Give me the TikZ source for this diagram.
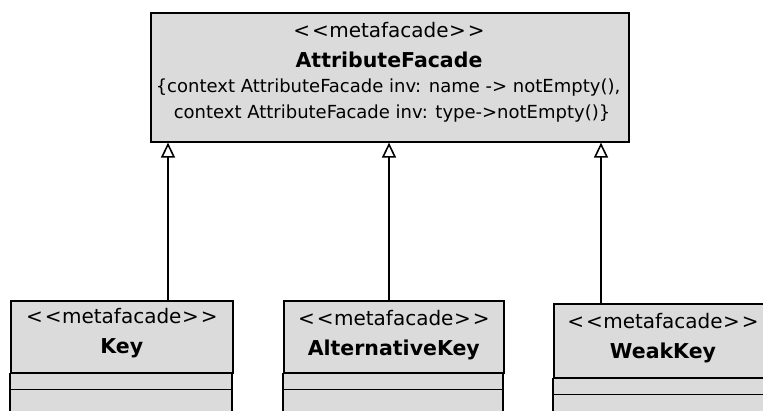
\documentclass[tikz,border=0pt]{standalone}
\usepackage{fontspec}
\setmainfont[Ligatures=NoCommon]{DejaVu Sans}
\usetikzlibrary{arrows.meta}
\newcommand{\mfstereo}{<\kern2pt<\kern0.5pt metafacade\kern0.5pt>\kern2pt>}
\tikzset{
  classbox/.style={draw=black, line width=1.6pt, fill=gray!28, inner sep=0pt, anchor=north west},
  comp/.style={draw=black, line width=1.6pt, fill=gray!28},
  stereo/.style={font=\fontsize{20}{22}\selectfont, inner sep=0pt},
  cname/.style={font=\fontsize{20.5}{22}\selectfont\bfseries, inner sep=0pt},
  ocl/.style={font=\fontsize{18}{20}\selectfont, inner sep=0pt},
  gen/.style={line width=1.6pt, -{Triangle[open, length=15pt, width=14pt, line width=1.6pt]}},
}
\begin{document}
\begin{tikzpicture}[x=1pt, y=-1pt]
\useasboundingbox (0,0) rectangle (763,410);

% superclass
\node[classbox, minimum width=478pt, minimum height=129pt] (af) at (150,12) {};
\node[stereo] (afs) at (389,30) {\mfstereo};
\node[cname] (afn) at (389,60) {AttributeFacade};
\node[ocl] (afc1) at (388,88) {\{context AttributeFacade inv: name -> notEmpty(),};
\node[ocl] (afc2) at (392,114) {context AttributeFacade inv: type->notEmpty()\}};

% subclasses
\node[classbox, minimum width=222pt, minimum height=72pt] (key) at (10,300) {};
\draw[comp] (key.south west) rectangle ++(222,16);
\draw[comp] (key.south west) ++(0,16) rectangle ++(222,22);
\node[stereo] (keys) at (key.center |- 0,316) {\mfstereo};
\node[cname] (keyn) at (key.center |- 0,348) {Key};

\node[classbox, minimum width=220pt, minimum height=72pt] (alt) at (283,300) {};
\draw[comp] (alt.south west) rectangle ++(220,16);
\draw[comp] (alt.south west) ++(0,16) rectangle ++(220,22);
\node[stereo] (alts) at (alt.center |- 0,318) {\mfstereo};
\node[cname] (altn) at (alt.center |- 0,350) {AlternativeKey};

\node[classbox, minimum width=220pt, minimum height=74pt] (weak) at (553,303) {};
\draw[comp] (weak.south west) rectangle ++(220,16);
\draw[comp] (weak.south west) ++(0,16) rectangle ++(220,22);
\node[stereo] (weaks) at (663,321) {\mfstereo};
\node[cname] (weakn) at (663,353) {WeakKey};

% generalisations
\draw[gen] (key.north -| 168,0) -- (af.south -| 168,0);
\draw[gen] (alt.north -| 389,0) -- (af.south -| 389,0);
\draw[gen] (weak.north -| 601,0) -- (af.south -| 601,0);
\end{tikzpicture}
\end{document}
